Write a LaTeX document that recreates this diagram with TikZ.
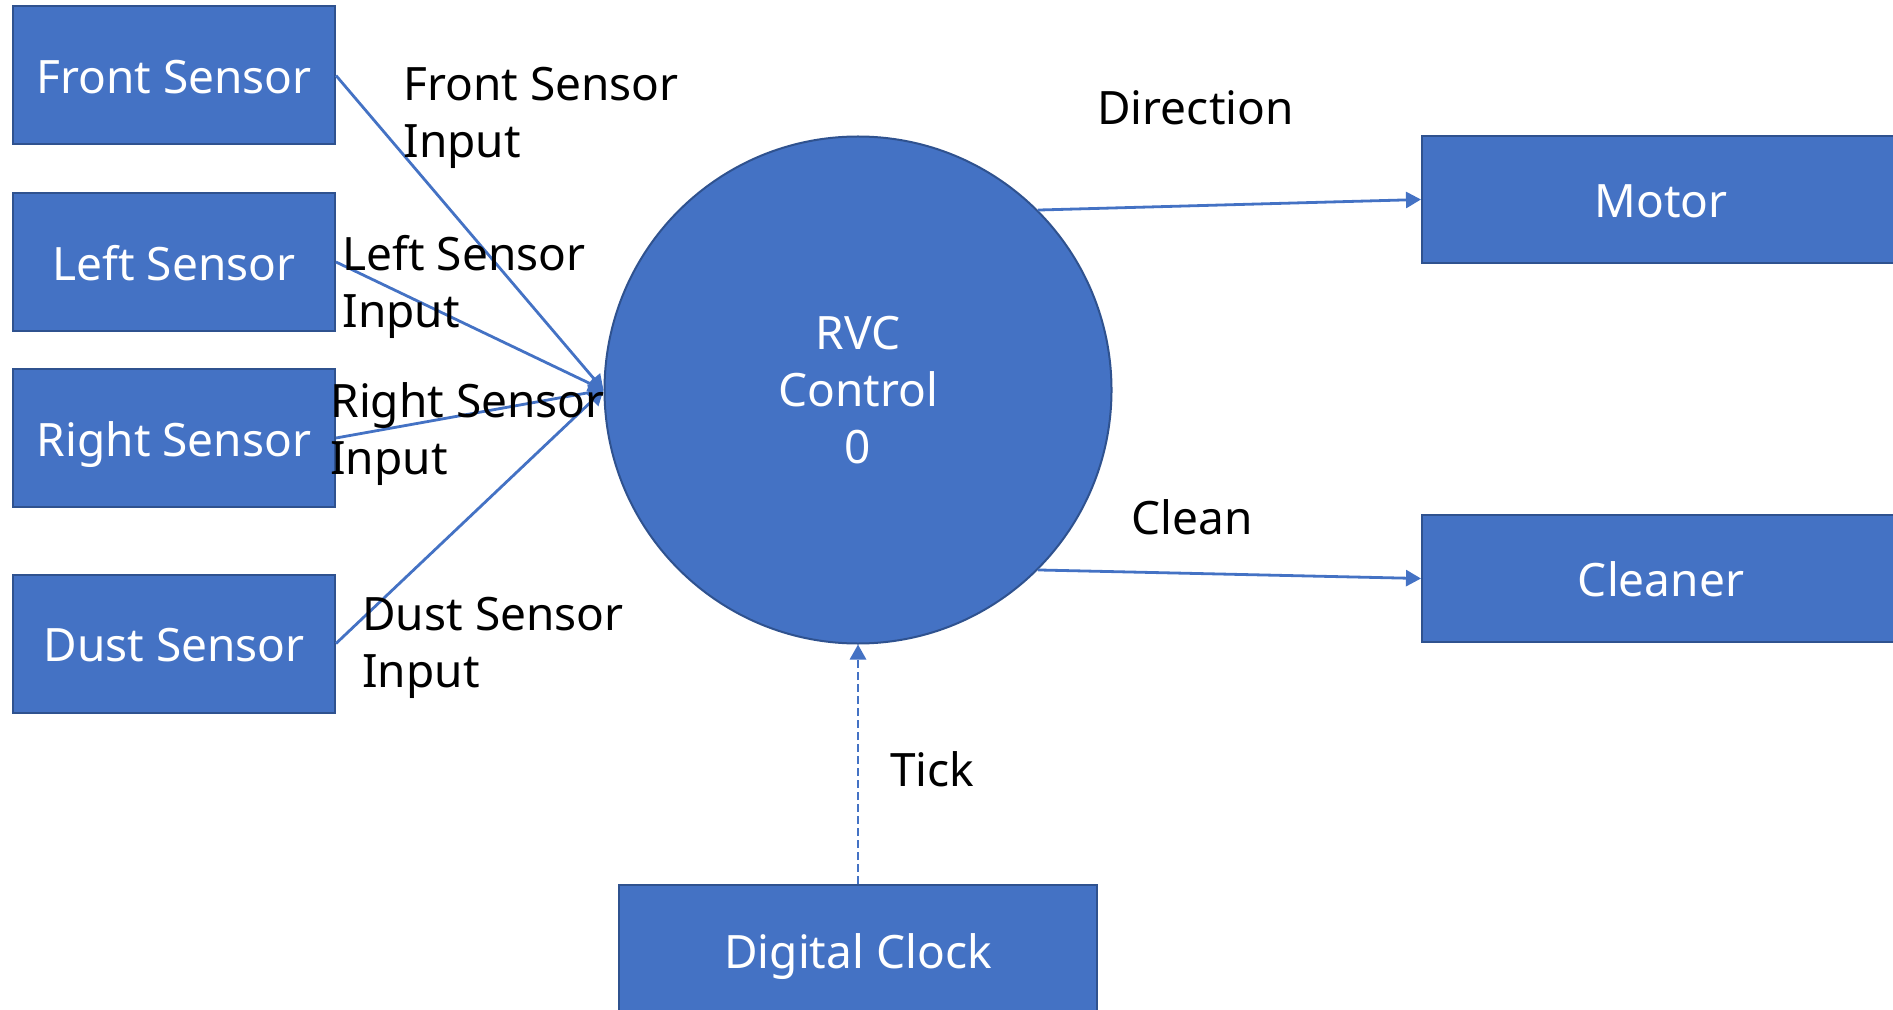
\documentclass[tikz,border=0pt]{standalone}
\usepackage{fontspec}
\setmainfont{Noto Sans}
\usetikzlibrary{arrows.meta}

\definecolor{boxblue}{HTML}{4472C4}
\definecolor{boxedge}{HTML}{2F528F}

\tikzstyle{entitybox} = [draw=boxedge, fill=boxblue, line width=1pt,
    rectangle, text=white, minimum width=161pt, minimum height=69pt,
    text height=19pt, text depth=0.6pt,
    font=\fontsize{23}{28.5}\selectfont]
\tikzstyle{processcircle} = [draw=boxedge, fill=boxblue, line width=1pt,
    circle, text=white, minimum size=253.5pt, align=center,
    font=\fontsize{23}{28.5}\selectfont]
\tikzstyle{flowtext} = [anchor=west, align=left, inner sep=0pt,
    font=\fontsize{23}{28.5}\selectfont]
\tikzstyle{flowarrow} = [draw=boxblue, line width=1.4pt,
    -{Triangle[length=7.5pt,width=8pt]}]

\begin{document}
\begin{tikzpicture}[x=0.5pt,y=-0.5pt]
\useasboundingbox (0,0) rectangle (1893,1010);
% external entities
\node [entitybox] (front) at (174,75.5) {Front Sensor};
\node [entitybox] (left) at (174,262) {Left Sensor};
\node [entitybox] (right) at (174,438) {Right Sensor};
\node [entitybox] (dust) at (174,643.5) {Dust Sensor};
\node [entitybox, minimum width=239pt, minimum height=63.5pt] (motor) at (1661,199.5) {Motor};
\node [entitybox, minimum width=239pt, minimum height=63.5pt] (cleaner) at (1661,578.5) {Cleaner};
\node [entitybox, minimum width=239pt, minimum height=65pt] (clock) at (858,950) {Digital Clock};
% process
\node [processcircle] (ctrl) at (858,390) {RVC\\Control\\0};
% flows
\draw [flowarrow] (front.east) -- (ctrl.west);
\draw [flowarrow] (left.east) -- (ctrl.west);
\draw [flowarrow] (right.east) -- (ctrl.west);
\draw [flowarrow] (dust.east) -- (ctrl.west);
\draw [flowarrow] (ctrl.45) -- (motor.west);
\draw [flowarrow] (ctrl.-45) -- (cleaner.west);
\draw [flowarrow, dash pattern=on 4pt off 2pt] (clock.north) -- (ctrl.south);
% flow labels
\node [flowtext] (frontlbl) at (403,118) {Front Sensor\\Input};
\node [flowtext] (leftlbl) at (342,287) {Left Sensor\\Input};
\node [flowtext] (rightlbl) at (330,434) {Right Sensor\\Input};
\node [flowtext] (dustlbl) at (362,648) {Dust Sensor\\Input};
\node [flowtext] (dirlbl) at (1097,108) {Direction};
\node [flowtext] (cleanlbl) at (1131,517) {Clean};
\node [flowtext] (ticklbl) at (890,769) {Tick};
\end{tikzpicture}
\end{document}
